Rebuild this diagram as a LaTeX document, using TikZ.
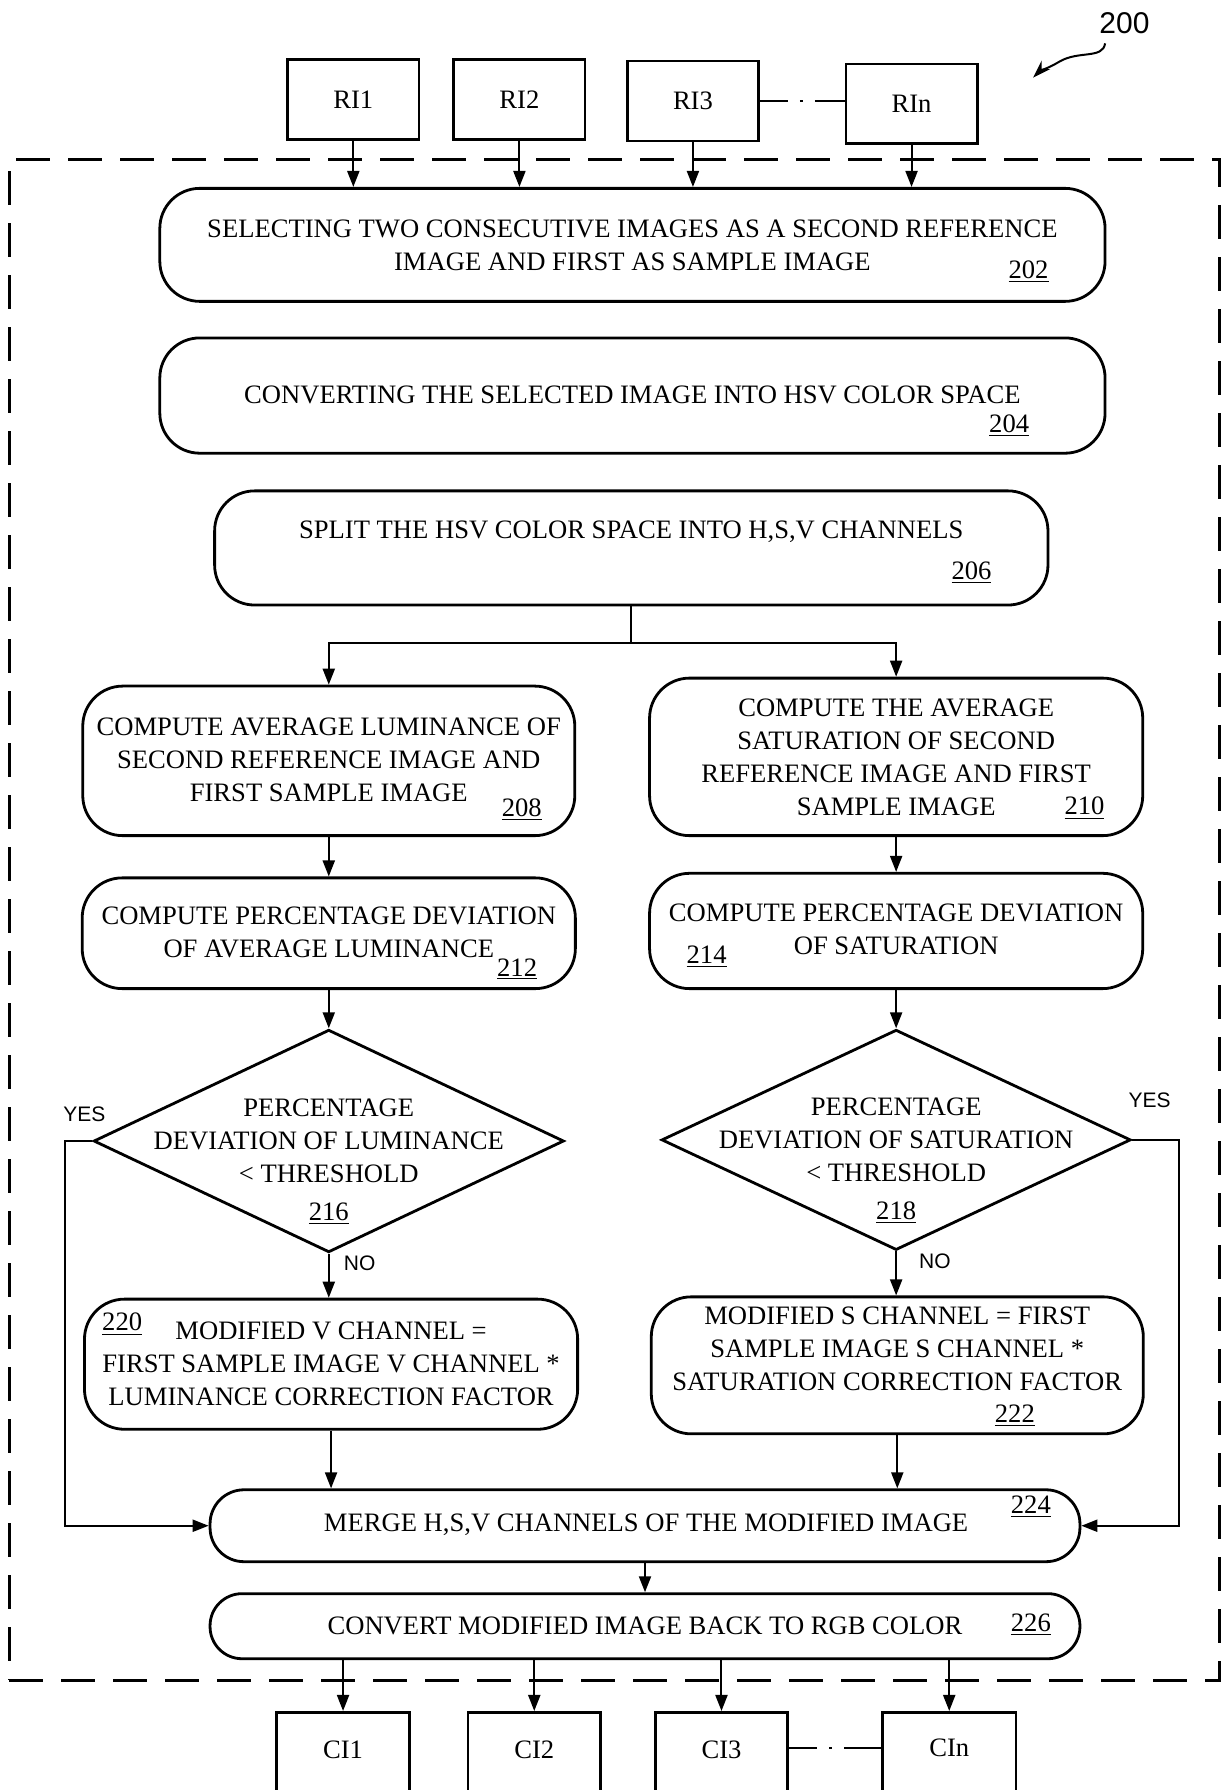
\documentclass[tikz,border=0pt]{standalone}
\usepackage{fontspec}
\setmainfont{Liberation Serif}
\newfontfamily\sansf{Liberation Sans}
\usetikzlibrary{shapes.geometric,arrows.meta}
\newcommand{\U}{0.5708pt}
\begin{document}
\begin{tikzpicture}[x=0.5708pt,y=-0.5708pt,
  box/.style={draw, line width=1.4pt, rounded corners=20pt, inner sep=0pt},
  sqbox/.style={draw, line width=1.4pt, inner sep=0pt, minimum width=115*\U, minimum height=70*\U, font=\fontsize{13.3}{16.5}\selectfont},
  dia/.style={draw, diamond, line width=1.4pt, inner sep=0pt},
  txt/.style={font=\fontsize{13.3}{16.5}\selectfont, align=center, inner sep=0pt},
  num/.style={font=\fontsize{13.3}{16}\selectfont, inner sep=0pt},
  lab/.style={font=\sansf\fontsize{10.5}{12}\selectfont, inner sep=0pt},
  arr/.style={line width=1pt, -{Triangle[length=8pt,width=6pt]}},
  ln/.style={line width=1pt},
  frame/.style={draw, line width=1.4pt, dash pattern=on 17pt off 9pt, inner sep=0pt},
  dd/.style={line width=1.2pt, dash pattern=on 14pt off 6pt on 1.5pt off 6pt on 40pt}
]
\useasboundingbox (0,0) rectangle (1073,1568);

% outer dashed frame
\node[frame, minimum width=1060*\U, minimum height=1332*\U] (frame) at (538,806) {};

% label 200
\node[font=\sansf\fontsize{15}{18}\selectfont, inner sep=0pt] (l200) at (985,20) {200};
\coordinate (sq1) at (968,38);
\coordinate (sq2) at (905,68);
\draw[line width=1pt, -{Stealth[length=9pt,width=6pt]}] (sq1) .. controls (966,52) and (945,44) .. (928,54) .. controls (918,60) and (911,62) .. (sq2);

% input boxes
\node[sqbox] (ri1) at (309.5,87) {RI1};
\node[sqbox] (ri2) at (455,87) {RI2};
\node[sqbox] (ri3) at (607,88.5) {RI3};
\node[sqbox] (rin) at (798.5,91) {RIn};
\draw[dd] (ri3.east) -- (ri3.east -| rin.west);

% main boxes
\node[box, minimum width=828*\U, minimum height=99*\U] (b202) at (554,214.5) {};
\node[txt] (t202) at (554,214.5) {SELECTING TWO CONSECUTIVE IMAGES AS A SECOND REFERENCE\\IMAGE AND FIRST AS SAMPLE IMAGE};
\node[num] (n202) at (901,238) {\underline{202}};

\node[box, minimum width=828*\U, minimum height=101*\U] (b204) at (554,346.5) {};
\node[txt] (t204) at (554,346) {CONVERTING THE SELECTED IMAGE INTO HSV COLOR SPACE};
\node[num] (n204) at (884,373) {\underline{204}};

\node[box, minimum width=730*\U, minimum height=100*\U] (b206) at (553,480) {};
\node[txt] (t206) at (553,466) {SPLIT THE HSV COLOR SPACE INTO H,S,V CHANNELS};
\node[num] (n206) at (851,502) {\underline{206}};

\node[box, minimum width=431*\U, minimum height=131*\U] (b208) at (288,666.5) {};
\node[txt] (t208) at (288,665.5) {COMPUTE AVERAGE LUMINANCE OF\\SECOND REFERENCE IMAGE AND\\FIRST SAMPLE IMAGE};
\node[num] (n208) at (457,709) {\underline{208}};

\node[box, minimum width=432*\U, minimum height=138*\U] (b210) at (785,663) {};
\node[txt] (t210) at (785,663) {COMPUTE THE AVERAGE\\SATURATION OF SECOND\\REFERENCE IMAGE AND FIRST\\SAMPLE IMAGE};
\node[num] (n210) at (950,708) {\underline{210}};

\node[box, minimum width=432*\U, minimum height=97*\U] (b212) at (288,817.5) {};
\node[txt] (t212) at (288,817) {COMPUTE PERCENTAGE DEVIATION\\OF AVERAGE LUMINANCE};
\node[num] (n212) at (453,849) {\underline{212}};

\node[box, minimum width=432*\U, minimum height=101*\U] (b214) at (785,815.5) {};
\node[txt] (t214) at (785,814) {COMPUTE PERCENTAGE DEVIATION\\OF SATURATION};
\node[num] (n214) at (619,838) {\underline{214}};

\node[dia, minimum width=412*\U, minimum height=195*\U] (d216) at (288,999.5) {};
\node[txt] (t216) at (288,999) {PERCENTAGE\\DEVIATION OF LUMINANCE\\< THRESHOLD};
\node[num] (n216) at (288,1063) {\underline{216}};

\node[dia, minimum width=411*\U, minimum height=193*\U] (d218) at (785,998.5) {};
\node[txt] (t218) at (785,998.5) {PERCENTAGE\\DEVIATION OF SATURATION\\< THRESHOLD};
\node[num] (n218) at (785,1062) {\underline{218}};

\node[box, minimum width=432*\U, minimum height=114*\U] (b220) at (290,1195) {};
\node[txt] (t220) at (290,1194.5) {MODIFIED V CHANNEL =\\FIRST SAMPLE IMAGE V CHANNEL *\\LUMINANCE CORRECTION FACTOR};
\node[num] (n220) at (107,1160) {\underline{220}};

\node[box, minimum width=431*\U, minimum height=120*\U] (b222) at (786,1196) {};
\node[txt] (t222) at (786,1181.5) {MODIFIED S CHANNEL = FIRST\\SAMPLE IMAGE S CHANNEL *\\SATURATION CORRECTION FACTOR};
\node[num] (n222) at (889,1240) {\underline{222}};

\node[box, rounded corners=17pt, minimum width=762*\U, minimum height=63*\U] (b224) at (565,1336.5) {};
\node[txt] (t224) at (566,1336) {MERGE H,S,V CHANNELS OF THE MODIFIED IMAGE};
\node[num] (n224) at (903,1320) {\underline{224}};

\node[box, rounded corners=16pt, minimum width=762*\U, minimum height=57*\U] (b226) at (565,1424.5) {};
\node[txt] (t226) at (565,1424) {CONVERT MODIFIED IMAGE BACK TO RGB COLOR};
\node[num] (n226) at (903,1423) {\underline{226}};

% output boxes
\node[sqbox, minimum width=117*\U, minimum height=80*\U] (ci1) at (300.5,1540) {};
\node[sqbox, minimum width=116*\U, minimum height=80*\U] (ci2) at (468,1540) {};
\node[sqbox, minimum width=116*\U, minimum height=80*\U] (ci3) at (632,1540) {};
\node[sqbox, minimum width=117*\U, minimum height=80*\U] (cin) at (831.5,1540) {};
\node[txt] (tci1) at (300.5,1533) {CI1};
\node[txt] (tci2) at (468,1533) {CI2};
\node[txt] (tci3) at (632,1533) {CI3};
\node[txt] (tcin) at (831.5,1531) {CIn};
\draw[dd] (ci3.east |- 0,1531) -- (cin.west |- 0,1531);

% labels
\node[lab] (yes1) at (74,976) {YES};
\node[lab] (yes2) at (1007,964) {YES};
\node[lab] (no1) at (315,1107) {NO};
\node[lab] (no2) at (819,1105) {NO};

% connectors
\foreach \r in {ri1,ri2,ri3,rin}
  \draw[arr] (\r.south) -- (\r.south |- b202.north);
\coordinate (split) at (553,563);
\draw[ln] (b206.south) -- (split);
\draw[arr] (split) -| (b208.north);
\draw[arr] (split) -| (b210.north);
\draw[arr] (b208.south) -- (b212.north);
\draw[arr] (b210.south) -- (b214.north);
\draw[arr] (b212.south) -- (d216.north);
\draw[arr] (b214.south) -- (d218.north);
\draw[arr] (d216.south) -- (d216.south |- b220.north);
\draw[arr] (d218.south) -- (d218.south |- b222.north);
\draw[arr] (b220.south) -- (b220.south |- b224.north);
\draw[arr] (b222.south) -- (b222.south |- b224.north);
\draw[arr] (d216.west) -- ++(-24,0) |- (b224.west);
\draw[arr] (d218.east) -- ++(41,0) |- (b224.east);
\draw[arr] (b224.south) -- (b226.north);
\foreach \c in {ci1,ci2,ci3,cin}
  \draw[arr] (\c.north |- b226.south) -- (\c.north);
\end{tikzpicture}
\end{document}
